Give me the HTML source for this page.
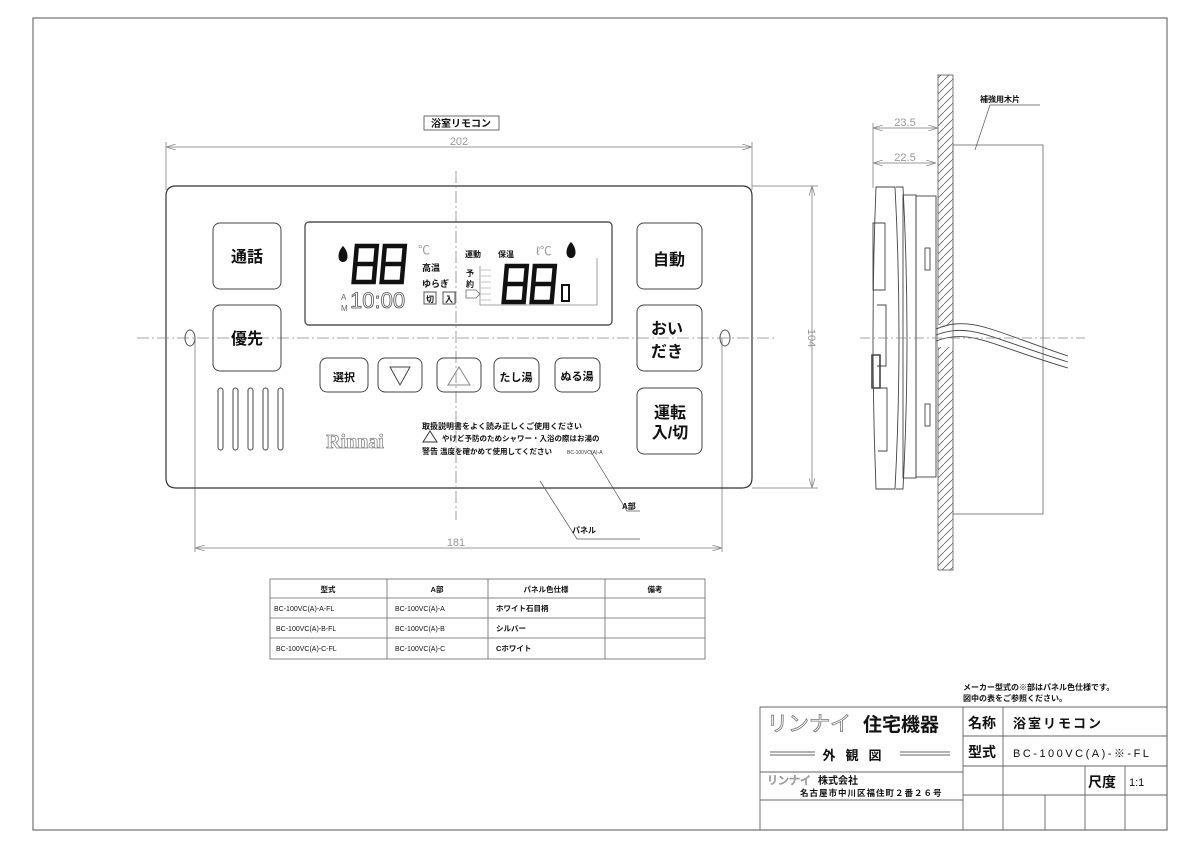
<!DOCTYPE html>
<html><head><meta charset="utf-8"><style>
html,body{margin:0;padding:0;background:#fff;}
svg{display:block;font-family:"Liberation Sans","Noto Sans CJK JP",sans-serif;}
.t{fill:#111;font-weight:bold;}
</style></head><body>
<svg width="1200" height="848" viewBox="0 0 1200 848" xmlns="http://www.w3.org/2000/svg">
<defs>
<pattern id="h" width="8" height="8" patternUnits="userSpaceOnUse">
<line x1="0" y1="8" x2="8" y2="0" stroke="#666" stroke-width="0.8"/>
</pattern>
<marker id="a" markerWidth="10" markerHeight="6" refX="10" refY="3" orient="auto-start-reverse" markerUnits="userSpaceOnUse"><path d="M0,0 L10,3 L0,6" fill="none" stroke="#888" stroke-width="0.8"/></marker>
<g id="d8"><path d="M2,2 H22 V38 H2 Z M2,20 H22" fill="none" stroke="#111" stroke-width="4.5" transform="skewX(-5)"/></g>
</defs>
<rect x="33" y="18" width="1134" height="812" fill="none" stroke="#555" stroke-width="1"/>

<rect x="424" y="116" width="75" height="14" fill="none" stroke="#444" stroke-width="0.8"/>
<text x="461" y="127" font-size="10" class="t" text-anchor="middle">浴室リモコン</text>

<line x1="166" y1="147" x2="752" y2="147" stroke="#999" marker-start="url(#a)" marker-end="url(#a)"/>
<line x1="166" y1="142" x2="166" y2="190" stroke="#999"/>
<line x1="752" y1="142" x2="752" y2="190" stroke="#999"/>
<text x="459" y="145" font-size="11" fill="#999" text-anchor="middle">202</text>

<line x1="752" y1="186" x2="818" y2="186" stroke="#999"/>
<line x1="752" y1="488" x2="818" y2="488" stroke="#999"/>
<line x1="812" y1="186" x2="812" y2="488" stroke="#999" marker-start="url(#a)" marker-end="url(#a)"/>
<text x="0" y="0" font-size="11" fill="#999" text-anchor="middle" transform="translate(808,338) rotate(90)">104</text>

<line x1="195" y1="338" x2="195" y2="552" stroke="#999"/>
<line x1="722" y1="338" x2="722" y2="552" stroke="#999"/>
<line x1="195" y1="548" x2="722" y2="548" stroke="#999" marker-start="url(#a)" marker-end="url(#a)"/>
<text x="456" y="546" font-size="11" fill="#999" text-anchor="middle">181</text>

<path d="M176,186 H742 Q752,186 752,196 V478 Q752,488 742,488 H176 Q166,488 166,478 V196 Q166,186 176,186 Z" fill="none" stroke="#333" stroke-width="1.2"/>

<line x1="456" y1="171" x2="456" y2="520" stroke="#888" stroke-width="0.8" stroke-dasharray="12,3,2,3"/>
<line x1="137" y1="338" x2="775" y2="338" stroke="#888" stroke-width="0.8" stroke-dasharray="12,3,2,3"/>
<ellipse cx="190" cy="338" rx="5" ry="8" fill="none" stroke="#555"/>
<ellipse cx="725" cy="338" rx="5" ry="8" fill="none" stroke="#555"/>

<g fill="none" stroke="#444" stroke-width="1">
<rect x="213" y="223" width="68" height="66" rx="7"/>
<rect x="213" y="305" width="68" height="66" rx="7"/>
<rect x="637" y="223" width="65" height="66" rx="7"/>
<rect x="637" y="305" width="65" height="66" rx="7"/>
<rect x="637" y="388" width="65" height="66" rx="7"/>
<rect x="320" y="358" width="48" height="34" rx="7"/>
<rect x="378" y="358" width="44" height="34" rx="7"/>
<rect x="437" y="358" width="44" height="34" rx="7"/>
<rect x="494" y="358" width="45" height="34" rx="7"/>
<rect x="555" y="358" width="45" height="34" rx="7"/>
<path d="M390,367 H410 L400,385 Z"/>
<path d="M448,385 H470 L459,367 Z" stroke="#888"/>
<rect x="218" y="388" width="5" height="62" rx="2.5"/>
<rect x="233" y="388" width="5" height="62" rx="2.5"/>
<rect x="248" y="388" width="5" height="62" rx="2.5"/>
<rect x="263" y="388" width="5" height="62" rx="2.5"/>
<rect x="278" y="388" width="5" height="62" rx="2.5"/>
</g>
<g class="t" text-anchor="middle">
<text x="247" y="262" font-size="16">通話</text>
<text x="247" y="344" font-size="16">優先</text>
<text x="669" y="265" font-size="16">自動</text>
<text x="667" y="334" font-size="16">おい</text>
<text x="667" y="357" font-size="16">だき</text>
<text x="670" y="418" font-size="16">運転</text>
<text x="670" y="438" font-size="16">入/切</text>
<text x="344" y="381" font-size="11">選択</text>
<text x="516" y="381" font-size="11">たし湯</text>
<text x="577" y="380" font-size="11">ぬる湯</text>
</g>

<rect x="305" y="222" width="307" height="103" rx="4" fill="none" stroke="#555" stroke-width="1.4"/>
<path d="M343,246 C337,252 337,262 343,262 C349,262 349,252 343,246 Z" fill="#111"/>
<use href="#d8" x="355" y="244"/>
<use href="#d8" x="383" y="244"/>
<text x="418" y="254" font-size="12" fill="#999">℃</text>
<text x="422" y="271" font-size="9" class="t">高温</text>
<text x="422" y="287" font-size="9" class="t">ゆらぎ</text>
<text x="341" y="300" font-size="8" fill="#666">A</text>
<text x="341" y="311" font-size="8" fill="#666">M</text>
<text x="350" y="308" font-size="22" fill="#fff" stroke="#555" stroke-width="0.8">10:00</text>
<rect x="424" y="292" width="12" height="12" fill="none" stroke="#555"/><text x="430" y="302" font-size="8" class="t" text-anchor="middle">切</text>
<rect x="443" y="292" width="12" height="12" fill="none" stroke="#555"/><text x="449" y="302" font-size="8" class="t" text-anchor="middle">入</text>
<text x="465" y="257" font-size="8" class="t">運動</text>
<text x="498" y="257" font-size="8" class="t">保温</text>
<text x="466" y="276" font-size="8" class="t">予</text>
<text x="466" y="287" font-size="8" class="t">約</text>
<text x="536" y="255" font-size="12" fill="#999">ℓ℃</text>
<path d="M571,242 C565,248 565,258 571,258 C577,258 577,248 571,242 Z" fill="#111"/>
<path d="M480,266 V305 H597 V258" fill="none" stroke="#888" stroke-width="0.8"/>
<g stroke="#aaa" stroke-width="0.7"><line x1="481" y1="270" x2="491" y2="270"/><line x1="481" y1="276" x2="491" y2="276"/><line x1="481" y1="282" x2="491" y2="282"/><line x1="481" y1="288" x2="491" y2="288"/><line x1="481" y1="294" x2="491" y2="294"/><line x1="481" y1="300" x2="491" y2="300"/></g>
<path d="M466,290 H476 L480,294 L476,298 H466 Z" fill="none" stroke="#666" stroke-width="0.8"/>
<use href="#d8" x="505" y="264"/>
<use href="#d8" x="533" y="264"/>
<rect x="562" y="285" width="7" height="16" fill="none" stroke="#111" stroke-width="2"/>

<text x="355" y="448" font-size="20" font-family="Liberation Serif,serif" font-weight="bold" fill="#fff" stroke="#888" stroke-width="0.8" text-anchor="middle">Rinnai</text>
<text x="422" y="429" font-size="8" class="t">取扱説明書をよく読み正しくご使用ください</text>
<path d="M423,442 L430,431 L437,442 Z" fill="none" stroke="#333"/>
<text x="442" y="441" font-size="7.5" class="t">やけど予防のためシャワー・入浴の際はお湯の</text>
<text x="422" y="454" font-size="8" class="t">警告</text>
<text x="440" y="454" font-size="7.5" class="t">温度を確かめて使用してください</text>
<text x="567" y="454" font-size="5" fill="#333">BC-100VC(A)-A</text>

<g stroke="#555" stroke-width="0.7" fill="none">
<path d="M590,450 L627,511 H640"/>
<path d="M540,481 L577,539 H640"/>
</g>
<text x="622" y="509" font-size="8" class="t">A部</text>
<text x="572" y="533" font-size="8" class="t">パネル</text>

<g stroke="#666" stroke-width="0.8" fill="none">
<rect x="270" y="579" width="435" height="80"/>
<line x1="270" y1="598" x2="705" y2="598"/><line x1="270" y1="618" x2="705" y2="618"/><line x1="270" y1="638" x2="705" y2="638"/>
<line x1="387" y1="579" x2="387" y2="659"/><line x1="488" y1="579" x2="488" y2="659"/><line x1="605" y1="579" x2="605" y2="659"/>
</g>
<g font-size="7.5" class="t">
<text x="328" y="592" text-anchor="middle">型式</text><text x="437" y="592" text-anchor="middle">A部</text><text x="546" y="592" text-anchor="middle">パネル色仕様</text><text x="655" y="592" text-anchor="middle">備考</text>
<text x="274" y="611" font-weight="normal" font-size="7">BC-100VC(A)-A-FL</text><text x="395" y="611" font-weight="normal" font-size="7">BC-100VC(A)-A</text><text x="496" y="611">ホワイト石目柄</text>
<text x="276" y="631" font-weight="normal" font-size="7">BC-100VC(A)-B-FL</text><text x="395" y="631" font-weight="normal" font-size="7">BC-100VC(A)-B</text><text x="496" y="631">シルバー</text>
<text x="276" y="651" font-weight="normal" font-size="7">BC-100VC(A)-C-FL</text><text x="395" y="651" font-weight="normal" font-size="7">BC-100VC(A)-C</text><text x="496" y="651">Cホワイト</text>
</g>

<rect x="938" y="75" width="15" height="495" fill="url(#h)" stroke="#555" stroke-width="0.8"/>
<rect x="938" y="325" width="15" height="22" fill="#fff" stroke="none"/>
<rect x="953" y="145" width="90" height="369" fill="none" stroke="#666" stroke-width="0.8"/>
<text x="980" y="102" font-size="8" class="t">補強用木片</text>
<path d="M1040,105 H990 L975,150" fill="none" stroke="#555" stroke-width="0.7"/>
<line x1="873" y1="123" x2="873" y2="188" stroke="#999"/>
<line x1="873" y1="128" x2="938" y2="128" stroke="#999" marker-start="url(#a)" marker-end="url(#a)"/>
<line x1="873" y1="163" x2="936" y2="163" stroke="#999" marker-start="url(#a)" marker-end="url(#a)"/>
<text x="905" y="126" font-size="11" fill="#999" text-anchor="middle">23.5</text>
<text x="905" y="161" font-size="11" fill="#999" text-anchor="middle">22.5</text>
<g fill="none" stroke="#444" stroke-width="0.9">
<path d="M876,187 H895 Q903,338 895,489 H876 Q870,338 876,187 Z"/>
<path d="M896,187 H903 Q911,338 903,489 H896"/>
<rect x="903" y="195" width="13" height="283"/>
<rect x="916" y="196" width="20" height="281"/>
<rect x="925" y="248" width="5" height="22"/>
<rect x="925" y="404" width="5" height="22"/>
<path d="M873,223 H885 V290 H873 Z"/>
<path d="M877,305 H886 V366 H877"/>
<path d="M872,355 H880 V388 H872 Z" stroke-width="1.6"/>
<path d="M878,388 H887 V451 H878"/>
<path d="M936,329 C970,315 990,330 1068,356"/>
<path d="M936,335 C970,322 990,338 1068,362"/>
<path d="M936,341 C970,328 990,345 1068,368"/>
</g>
<line x1="860" y1="338" x2="1085" y2="338" stroke="#888" stroke-width="0.7" stroke-dasharray="10,3,2,3"/>

<text x="963" y="690" font-size="8" class="t">メーカー型式の※部はパネル色仕様です。</text>
<text x="963" y="701" font-size="8" class="t">図中の表をご参照ください。</text>
<g stroke="#666" stroke-width="0.9" fill="none">
<path d="M760,830 V707 H1167"/>
<line x1="963" y1="707" x2="963" y2="830"/>
<line x1="963" y1="736" x2="1167" y2="736"/>
<line x1="760" y1="772" x2="963" y2="772"/>
<line x1="963" y1="766" x2="1167" y2="766"/>
<line x1="963" y1="795" x2="1167" y2="795"/>
<line x1="760" y1="800" x2="963" y2="800"/>
<line x1="1003" y1="707" x2="1003" y2="830"/>
<line x1="1045" y1="795" x2="1045" y2="830"/>
<line x1="1085" y1="766" x2="1085" y2="830"/>
<line x1="1125" y1="766" x2="1125" y2="830"/>
<line x1="770" y1="752" x2="815" y2="752"/><line x1="770" y1="755" x2="815" y2="755"/>
<line x1="900" y1="752" x2="950" y2="752"/><line x1="900" y1="755" x2="950" y2="755"/>
</g>
<text x="767" y="731" font-size="21" fill="#fff" stroke="#777" stroke-width="0.8">リンナイ</text>
<text x="863" y="731" font-size="19" class="t">住宅機器</text>
<text x="857" y="760" font-size="13" class="t" text-anchor="middle" letter-spacing="10">外観図</text>
<text x="767" y="784" font-size="11" fill="#fff" stroke="#777" stroke-width="0.6">リンナイ</text>
<text x="818" y="784" font-size="10" class="t" font-weight="normal">株式会社</text>
<text x="800" y="796" font-size="8.5" class="t" letter-spacing="1">名古屋市中川区福住町２番２６号</text>
<text x="968" y="728" font-size="14" class="t">名称</text>
<text x="1013" y="728" font-size="13" class="t" letter-spacing="2">浴室リモコン</text>
<text x="968" y="757" font-size="14" class="t">型式</text>
<text x="1013" y="757" font-size="11" fill="#111" letter-spacing="2.5">BC-100VC(A)-※-FL</text>
<text x="1088" y="787" font-size="14" class="t">尺度</text>
<text x="1129" y="786" font-size="11" fill="#111">1:1</text>
</svg>
</body></html>
